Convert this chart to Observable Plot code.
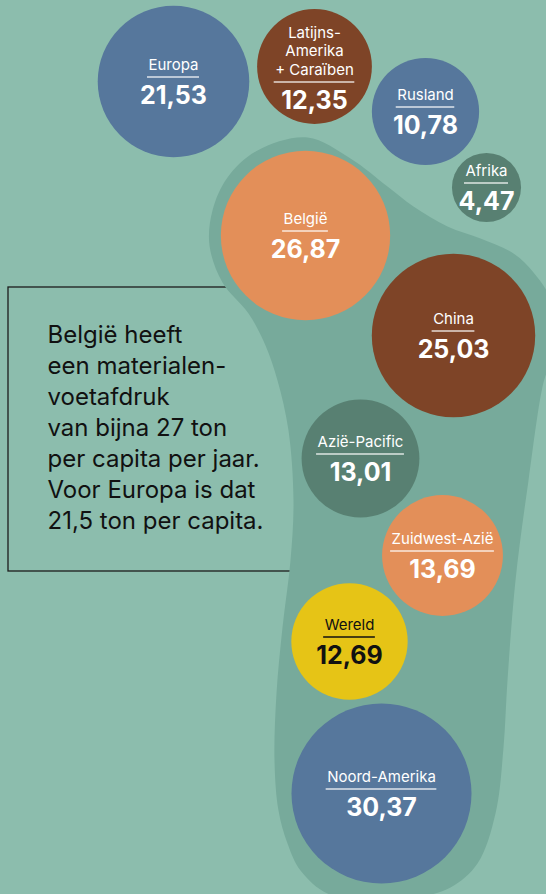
<!DOCTYPE html>
<html><head><meta charset="utf-8">
<script src="https://cdn.jsdelivr.net/npm/d3@7"></script>
<script src="https://cdn.jsdelivr.net/npm/@observablehq/plot@0.6"></script>
<style>
html,body{margin:0;padding:0;background:#8cbdad;}
#chart svg{display:block;}
</style></head><body><div id="chart"></div>
<script>
// ---- data ----
const regions = ["Europa", "Latijns-Amerika + Caraïben", "Rusland", "Afrika", "België", "China", "Azië-Pacific", "Zuidwest-Azië", "Wereld", "Noord-Amerika"];
const labelLines = [["Europa"], ["Latijns-", "Amerika", "+ Caraïben"], ["Rusland"], ["Afrika"], ["België"], ["China"], ["Azië-Pacific"], ["Zuidwest-Azië"], ["Wereld"], ["Noord-Amerika"]];
const footprintTons = [21.53, 12.35, 10.78, 4.47, 26.87, 25.03, 13.01, 13.69, 12.69, 30.37];
const regionColors = ["#56779c", "#7e4427", "#56779c", "#588072", "#e38f59", "#7e4427", "#588072", "#e38f59", "#e6c416", "#56779c"];
const darkLabelRegions = ["Wereld"];
const noteLines = ["België heeft", "een materialen-", "voetafdruk", "van bijna 27 ton", "per capita per jaar.", "Voor Europa is dat", "21,5 ton per capita."];

// ---- layout (page pixels) ----
const bubbleX = [173, 314, 425, 486, 305, 453, 360, 442, 349, 381];
const bubbleY = [81, 66, 111, 187, 235, 335, 458, 555, 641, 793];
const footprintOutline = [
  [307,137],[350,158],[387,186],[413,206],[447,226],[480,238],[513,253],[533,272],[551,300],[556,335],[550,362],
  [543,382],[528,480],[515,580],[507,680],[503,747],[495,813],[477,863],[450,887],[415,897],[370,899],[327,893],
  [300,870],[287,843],[278,810],[274,760],[276,693],[282,627],[290,560],[293,500],[288,430],[277,380],[265,345],
  [248,313],[222,282],[209,245],[212,210],[227,177],[257,150]
];
const noteBox = {x1: 8, x2: 300, y1: 287, y2: 571};
const notePos = {x: 47, y: 342, lineGap: 31};

// ---- build ----
const labelFont = 15, valueFont = 25, lineGap = 18.3;
const ctx = document.createElement("canvas").getContext("2d");
ctx.font = `400 ${labelFont}px Inter`;
const fmt = v => v.toFixed(2).replace(".", ",");
const data = regions.map((name, i) => {
  const lines = labelLines[i];
  const last = -12 + (lines.length - 1) * 10;
  return {
    name, label: lines.join("\n"), value: footprintTons[i], valueText: fmt(footprintTons[i]),
    x: bubbleX[i], y: bubbleY[i], last,
    w: d3.max(lines, l => ctx.measureText(l).width) + 2,
    dark: darkLabelRegions.includes(name)
  };
});

const textMarks = (dark) => {
  const col = dark ? "#111111" : "#ffffff";
  const f = d => d.dark === dark;
  return [
    Plot.text(data, {filter: f, x: "x", y: d => d.y + d.last, text: "label", lineAnchor: "bottom",
      fontSize: labelFont, lineHeight: lineGap / labelFont, fill: col, fontWeight: 400}),
    Plot.ruleY(data, {filter: f, y: d => d.y + d.last + 7.5, x1: d => d.x - d.w / 2, x2: d => d.x + d.w / 2,
      stroke: col, strokeOpacity: dark ? 1 : 0.8, strokeWidth: 1.4}),
    Plot.text(data, {filter: f, x: "x", y: d => d.y + d.last + 34, text: "valueText", lineAnchor: "bottom",
      fontSize: valueFont, fontWeight: 700, fill: col})
  ];
};

const chart = Plot.plot({
  width: 546, height: 894, margin: 0,
  x: {domain: [0, 546], range: [0, 546], axis: null},
  y: {domain: [0, 894], range: [0, 894], axis: null},
  r: {type: "sqrt", domain: [0, d3.max(footprintTons)], range: [0, 90]},
  color: {domain: regions, range: regionColors},
  style: {background: "#8cbdad", fontFamily: "Inter, sans-serif"},
  marks: [
    Plot.rect([noteBox], {x1: "x1", x2: "x2", y1: "y1", y2: "y2", fill: "none", stroke: "#1c1c1c", strokeWidth: 1.3}),
    Plot.line(footprintOutline, {x: d => d[0], y: d => d[1], curve: "catmull-rom-closed", fill: "#77aa9b", stroke: "none"}),
    Plot.dot(data, {x: "x", y: "y", r: "value", fill: "name", stroke: "none"}),
    ...textMarks(false),
    ...textMarks(true),
    Plot.text([noteLines.join("\n")], {x: () => notePos.x, y: () => notePos.y + (noteLines.length - 1) * notePos.lineGap,
      text: d => d, textAnchor: "start", lineAnchor: "bottom", fontSize: 24, lineHeight: notePos.lineGap / 24, fill: "#111111"})
  ]
});
document.getElementById("chart").appendChild(chart);
</script></body></html>
